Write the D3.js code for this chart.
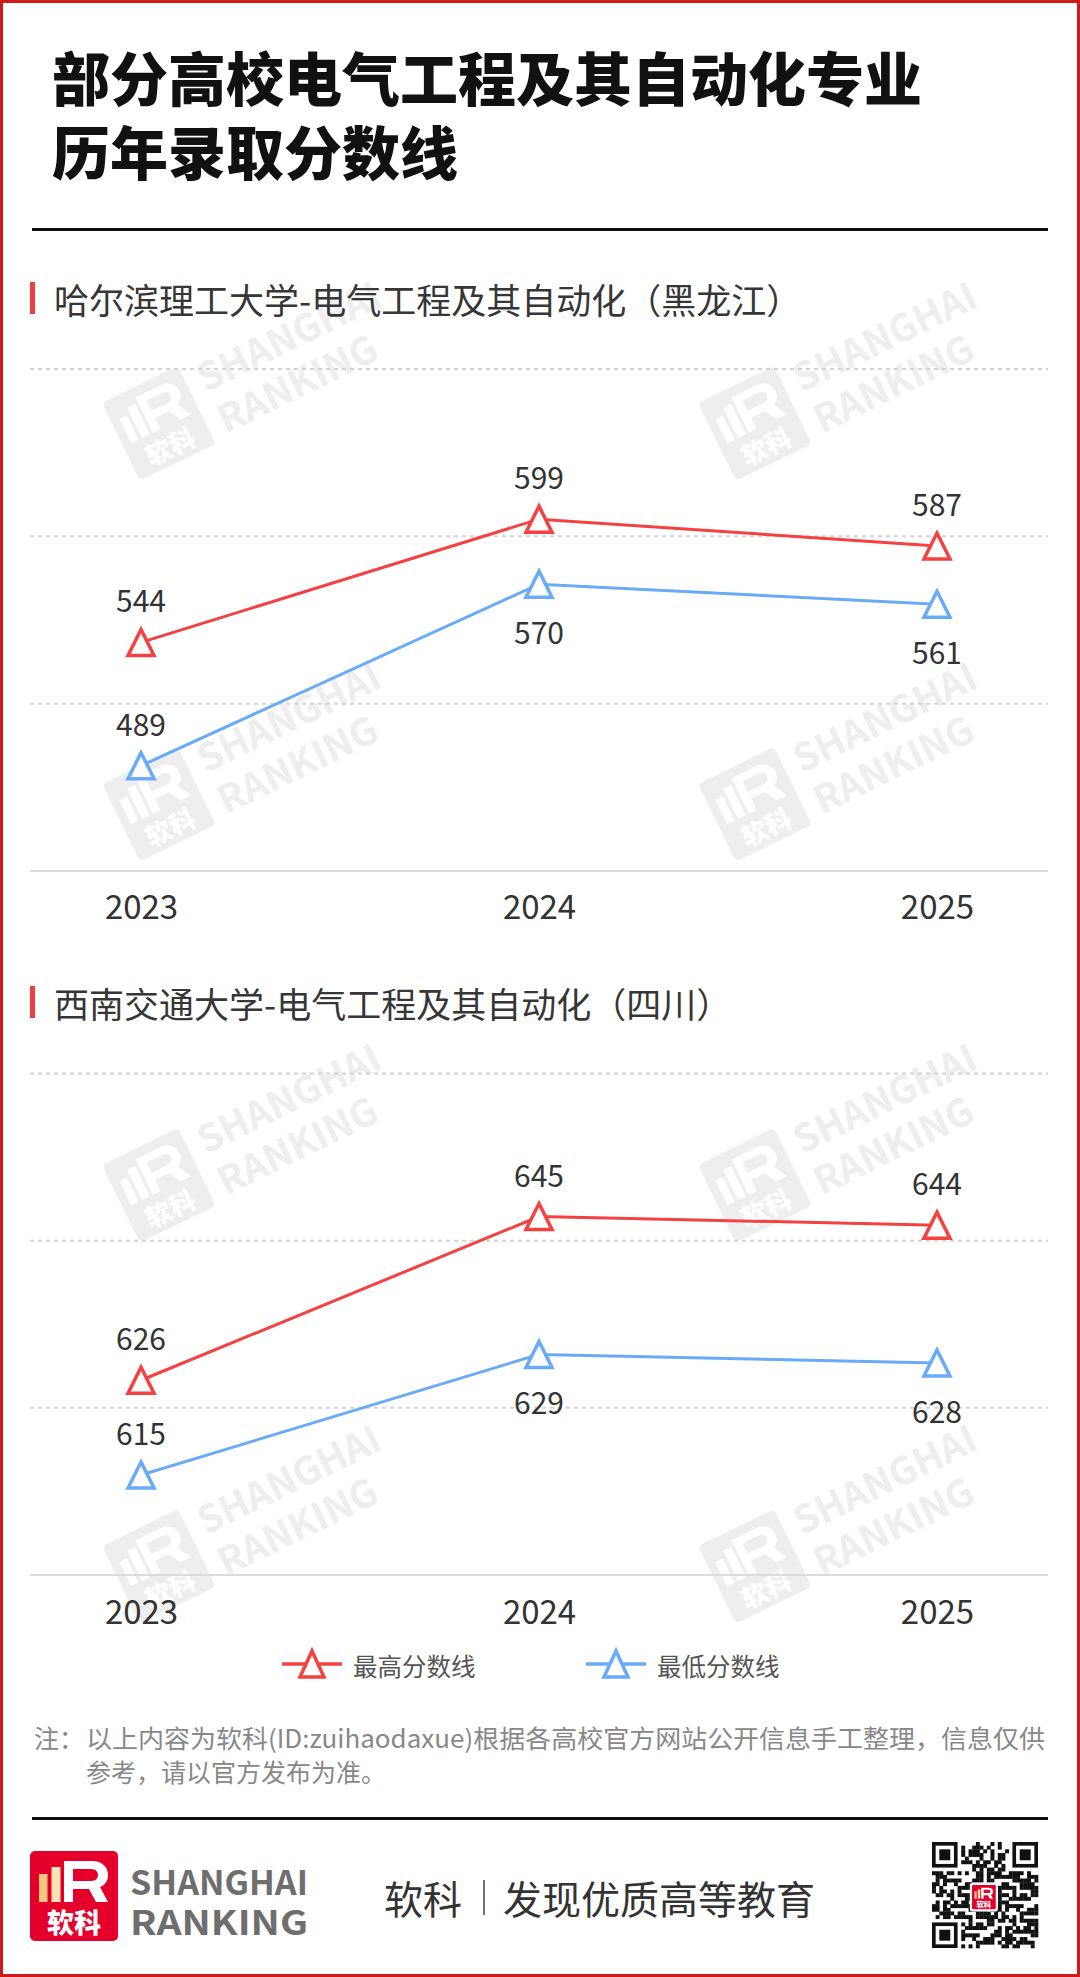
<!DOCTYPE html>
<html><head><meta charset="utf-8">
<script src="https://cdn.jsdelivr.net/npm/d3@7"></script>
<style>
html,body{margin:0;padding:0;background:#fff;}
svg{display:block;}
text{font-family:"Noto Sans CJK SC","Noto Sans",sans-serif;}
</style></head><body>
<div id="chart"></div>
<script>
// ---------- data ----------
const years = ["2023", "2024", "2025"];
const seriesNames = ["最高分数线", "最低分数线"];
const chart1Title = "哈尔滨理工大学-电气工程及其自动化（黑龙江）";
const chart1High = [544, 599, 587];
const chart1Low = [489, 570, 561];
const chart2Title = "西南交通大学-电气工程及其自动化（四川）";
const chart2High = [626, 645, 644];
const chart2Low = [615, 629, 628];
const titleLines = ["部分高校电气工程及其自动化专业", "历年录取分数线"];
const noteLines = ["以上内容为软科(ID:zuihaodaxue)根据各高校官方网站公开信息手工整理，信息仅供", "参考，请以官方发布为准。"];

// ---------- styles / layout ----------
const W = 1080, H = 1977;
const RED = "#f44141", BLUE = "#6aabf8";
const lowLabelSide = ["top", "bottom", "bottom"];

const svg = d3.select("#chart").append("svg").attr("width", W).attr("height", H);
svg.append("rect").attr("width", W).attr("height", H).attr("fill", "#fff");

// logo drawing helper (local box 88x90)
function drawLogo(g, bg, b1, b2, fg, withText) {
  g.append("rect").attr("width", 88).attr("height", 90).attr("rx", 5).attr("fill", bg);
  g.append("rect").attr("x", 9).attr("y", 23).attr("width", 8.5).attr("height", 28).attr("fill", b1);
  g.append("rect").attr("x", 21.5).attr("y", 16).attr("width", 9).attr("height", 35).attr("fill", b2);
  g.append("path").attr("fill", fg).attr("fill-rule", "evenodd")
    .attr("d", "M34,10 H62 C72,10 78,16 78,24 C78,30 75,34 70,36 L78,51 H66 L59,38 H43 V51 H34 Z M43,18 V30 H61 C66,30 68,27 68,24 C68,21 66,18 61,18 Z");
  if (withText) {
    g.append("text").attr("x", 44).attr("y", 70).attr("text-anchor", "middle")
      .attr("dominant-baseline", "central").attr("font-size", 27).attr("font-weight", 900)
      .attr("fill", fg).text("软科");
  }
}

// ---------- watermarks ----------
const wmLayer = svg.append("g");
const wmCols = [102, 698], wmRows = [403, 784, 1165, 1546];
wmRows.forEach(ry => wmCols.forEach(cx => {
  const g = wmLayer.append("g").attr("transform", `translate(${cx},${ry}) rotate(-26)`);
  const lg = g.append("g").attr("transform", "scale(0.96)");
  drawLogo(lg, "#eeeeee", "#ffffff", "#ffffff", "#ffffff", true);
  g.append("text").attr("x", 98).attr("y", 36).attr("font-size", 38).attr("font-weight", 700)
    .attr("font-family", "Roboto, 'Noto Sans', sans-serif").attr("fill", "#eeeeee").text("SHANGHAI");
  g.append("text").attr("x", 98).attr("y", 82).attr("font-size", 38).attr("font-weight", 700)
    .attr("font-family", "Roboto, 'Noto Sans', sans-serif").attr("fill", "#eeeeee").text("RANKING");
}));

// ---------- border ----------
svg.append("rect").attr("x", 1.5).attr("y", 1.5).attr("width", W - 3).attr("height", H - 3)
  .attr("fill", "none").attr("stroke", "#d01a1a").attr("stroke-width", 3);

// ---------- title ----------
titleLines.forEach((t, i) => {
  svg.append("text").attr("x", 52).attr("y", 76 + i * 74).attr("dominant-baseline", "central")
    .attr("font-size", 58).attr("font-weight", 900).attr("fill", "#111").text(t);
});
svg.append("rect").attr("x", 32).attr("y", 228).attr("width", 1016).attr("height", 3).attr("fill", "#111");

// ---------- charts ----------
const x = d3.scalePoint().domain(years).range([30, 1048]).padding(0.279);
const triPath = "M0,-13 L13,13 L-13,13 Z";

function drawChart(cfg) {
  const g = svg.append("g");
  // header
  g.append("rect").attr("x", 30).attr("y", cfg.headY - 16).attr("width", 5).attr("height", 32).attr("fill", "#f03c3c");
  g.append("text").attr("x", 54).attr("y", cfg.headY).attr("dominant-baseline", "central")
    .attr("font-size", 35).attr("fill", "#363636").text(cfg.title);

  const y = d3.scaleLinear().domain(cfg.domain).range([cfg.bottom, cfg.top]);
  // gridlines (3 equal splits above baseline)
  const [d0, d1] = cfg.domain;
  const gridVals = [1, 2, 3].map(i => d0 + i * (d1 - d0) / 3);
  g.selectAll(".grid").data(gridVals).enter().append("line")
    .attr("x1", 30).attr("x2", 1048).attr("y1", d => y(d)).attr("y2", d => y(d))
    .attr("stroke", "#d4d4d4").attr("stroke-width", 2).attr("stroke-dasharray", "4,4");
  // baseline axis
  const axis = d3.axisBottom(x).tickSize(0).tickPadding(0);
  const ax = g.append("g").attr("transform", `translate(0,${cfg.bottom})`).call(axis);
  ax.select(".domain").attr("d", "M30,0H1048").attr("stroke", "#dcdcdc").attr("stroke-width", 2);
  ax.selectAll(".tick text").attr("y", cfg.yearY - cfg.bottom).attr("dy", null)
    .attr("dominant-baseline", "central").attr("font-size", 33)
    .attr("font-family", "Roboto, 'Noto Sans', sans-serif").attr("fill", "#333");

  const series = [
    { vals: cfg.high, color: RED, side: years.map(() => "top") },
    { vals: cfg.low, color: BLUE, side: lowLabelSide }
  ];
  const line = d3.line().x((d, i) => x(years[i])).y(d => y(d));
  series.forEach(s => {
    g.append("path").attr("d", line(s.vals)).attr("fill", "none")
      .attr("stroke", s.color).attr("stroke-width", 3);
  });
  series.forEach(s => {
    g.selectAll(null).data(s.vals).enter().append("path")
      .attr("d", triPath).attr("transform", (d, i) => `translate(${x(years[i])},${y(d)})`)
      .attr("fill", "#fff").attr("stroke", s.color).attr("stroke-width", 3.5);
    g.selectAll(null).data(s.vals).enter().append("text")
      .attr("x", (d, i) => x(years[i]))
      .attr("y", (d, i) => y(d) + (s.side[i] === "top" ? -43 : 47))
      .attr("text-anchor", "middle").attr("dominant-baseline", "central")
      .attr("font-size", 30).attr("font-family", "Roboto, 'Noto Sans', sans-serif")
      .attr("fill", "#333").text(d => d);
  });
}

drawChart({ title: chart1Title, high: chart1High, low: chart1Low, headY: 298,
  top: 369, bottom: 871, yearY: 905, domain: [442, 666] });
drawChart({ title: chart2Title, high: chart2High, low: chart2Low, headY: 1002,
  top: 1073.5, bottom: 1575, yearY: 1610, domain: [603.4, 661.6] });

// ---------- legend ----------
const legX = [282, 586];
seriesNames.forEach((n, i) => {
  const c = i === 0 ? RED : BLUE;
  const lg = svg.append("g").attr("transform", `translate(${legX[i]},1664)`);
  lg.append("line").attr("x1", 0).attr("x2", 60).attr("stroke", c).attr("stroke-width", 3.5);
  lg.append("path").attr("d", "M0,-13 L12,13 L-12,13 Z").attr("transform", "translate(30,0)")
    .attr("fill", "#fff").attr("stroke", c).attr("stroke-width", 3.5);
  lg.append("text").attr("x", 71).attr("y", 1).attr("dominant-baseline", "central")
    .attr("font-size", 24.5).attr("fill", "#555").text(n);
});

// ---------- note ----------
svg.append("text").attr("x", 34).attr("y", 1737).attr("dominant-baseline", "central")
  .attr("font-size", 25).attr("fill", "#888").text("注：");
noteLines.forEach((t, i) => {
  const tx = svg.append("text").attr("x", 86).attr("y", 1737 + i * 34).attr("dominant-baseline", "central")
    .attr("font-size", 25).attr("fill", "#888").text(t);
  if (i === 0) tx.attr("textLength", 959).attr("lengthAdjust", "spacingAndGlyphs");
});
svg.append("rect").attr("x", 32).attr("y", 1817).attr("width", 1016).attr("height", 3).attr("fill", "#111");

// ---------- footer ----------
const fl = svg.append("g").attr("transform", "translate(30,1851)");
drawLogo(fl, "#e4002b", "#f9c583", "#fde2b3", "#ffffff", true);
svg.append("text").attr("x", 130).attr("y", 1880).attr("dominant-baseline", "central")
  .attr("font-size", 34).attr("font-weight", 700).attr("font-family", "Roboto, sans-serif")
  .attr("fill", "#6e6e6e").attr("textLength", 178).attr("lengthAdjust", "spacingAndGlyphs").text("SHANGHAI");
svg.append("text").attr("x", 130).attr("y", 1920).attr("dominant-baseline", "central")
  .attr("font-size", 34).attr("font-weight", 700).attr("font-family", "Roboto, sans-serif")
  .attr("fill", "#6e6e6e").attr("textLength", 178).attr("lengthAdjust", "spacingAndGlyphs").text("RANKING");
svg.append("text").attr("x", 384).attr("y", 1897).attr("dominant-baseline", "central")
  .attr("font-size", 39).attr("fill", "#333").text("软科");
svg.append("line").attr("x1", 484).attr("x2", 484).attr("y1", 1880).attr("y2", 1915)
  .attr("stroke", "#444").attr("stroke-width", 1.5);
svg.append("text").attr("x", 503).attr("y", 1897).attr("dominant-baseline", "central")
  .attr("font-size", 39).attr("fill", "#333").text("发现优质高等教育");

// ---------- QR-like code ----------
const qr = svg.append("g").attr("transform", "translate(932,1842)");
const N = 29, m = 106 / N;
let seed = 20250611;
function nextBit() { seed = (seed * 1103515245 + 12345) % 2147483648; return (seed >> 16) & 1; }
function inFinder(r, c) {
  return (r < 8 && c < 8) || (r < 8 && c >= N - 8) || (r >= N - 8 && c < 8);
}
for (let r = 0; r < N; r++) for (let c = 0; c < N; c++) {
  const b = nextBit();
  if (inFinder(r, c)) continue;
  if (r >= 11 && r <= 17 && c >= 11 && c <= 17) continue;
  if (b) qr.append("rect").attr("x", c * m).attr("y", r * m).attr("width", m + 0.3).attr("height", m + 0.3).attr("fill", "#111");
}
[[0, 0], [0, N - 7], [N - 7, 0]].forEach(([r, c]) => {
  qr.append("rect").attr("x", c * m).attr("y", r * m).attr("width", 7 * m).attr("height", 7 * m).attr("fill", "#111");
  qr.append("rect").attr("x", (c + 1) * m).attr("y", (r + 1) * m).attr("width", 5 * m).attr("height", 5 * m).attr("fill", "#fff");
  qr.append("rect").attr("x", (c + 2) * m).attr("y", (r + 2) * m).attr("width", 3 * m).attr("height", 3 * m).attr("fill", "#111");
});
const ql = qr.append("g").attr("transform", "translate(40,43) scale(0.27)");
ql.append("rect").attr("x", -8).attr("y", -8).attr("width", 104).attr("height", 106).attr("rx", 10).attr("fill", "#fff");
drawLogo(ql, "#e4002b", "#f9c583", "#fde2b3", "#ffffff", true);
</script>
</body></html>
